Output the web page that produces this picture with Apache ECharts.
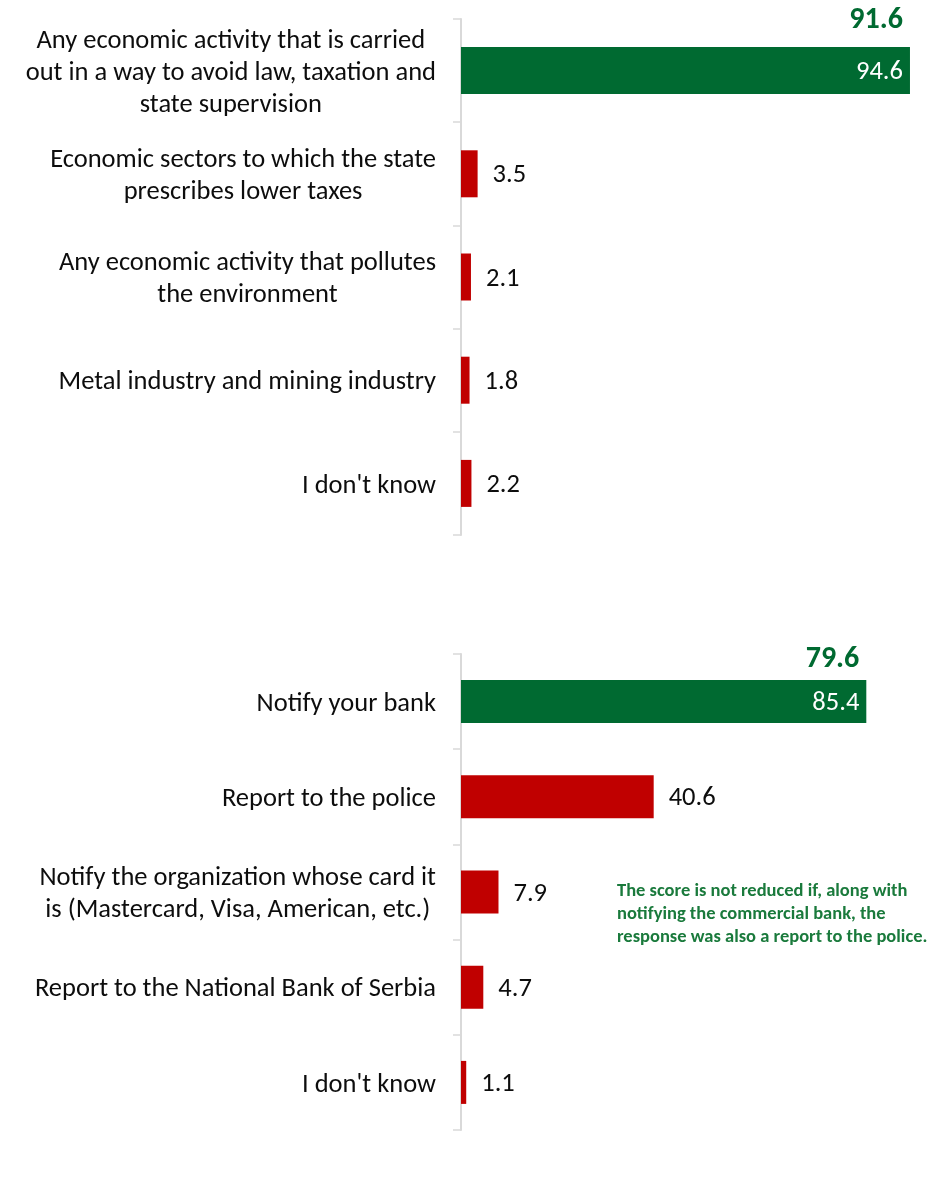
<!DOCTYPE html>
<html>
<head>
<meta charset="utf-8">
<script src="https://cdn.jsdelivr.net/npm/echarts@6/dist/echarts.min.js"></script>
<style>
  html, body { margin: 0; padding: 0; background: #fff; }
  #chart { width: 947px; height: 1197px; }
</style>
</head>
<body>
<div id="chart"></div>
<script>
// Question 1: what the grey economy is
const topCategories = [
  'Any economic activity that is carried\nout in a way to avoid law, taxation and\nstate supervision',
  'Economic sectors to which the state\nprescribes lower taxes',
  'Any economic activity that pollutes\nthe environment',
  'Metal industry and mining industry',
  "I don't know"
];
const topValues = [94.6, 3.5, 2.1, 1.8, 2.2];
const topScore = 91.6;

// Question 2: what to do when a payment card is lost
const bottomCategories = [
  'Notify your bank',
  'Report to the police',
  'Notify the organization whose card it\nis (Mastercard, Visa, American, etc.)',
  'Report to the National Bank of Serbia',
  "I don't know"
];
const bottomValues = [85.4, 40.6, 7.9, 4.7, 1.1];
const bottomScore = 79.6;

const noteLines = [
  'The score is not reduced if, along with',
  'notifying the commercial bank, the',
  'response was also a report to the police.'
];

const FONT = 'Carlito, Lato, "Liberation Sans", sans-serif';
const GREEN = '#006a31';
const RED = '#c00000';
const AXIS_GREY = '#d9d9d9';
const LABEL_SIZE = 26.5;

const gridLeft = 461;
const gridWidth = 474.6;
const grids = [
  { left: gridLeft, width: gridWidth, top: 19, height: 516 },
  { left: gridLeft, width: gridWidth, top: 654, height: 476 }
];

function catAxis(idx, cats) {
  return {
    type: 'category',
    gridIndex: idx,
    inverse: true,
    data: cats,
    axisLine: { show: true, lineStyle: { color: AXIS_GREY, width: 2 } },
    axisTick: { show: true, length: 8, lineStyle: { color: AXIS_GREY, width: 1.5 } },
    axisLabel: {
      margin: 25,
      align: 'right',
      padding: [5, 0, 0, 0],
      formatter: v => v.split('\n').map(l => '{c|' + l + '}').join('\n'),
      rich: {
        c: { align: 'center', fontFamily: FONT, fontSize: LABEL_SIZE, lineHeight: 32, color: '#0d0d0d' }
      }
    }
  };
}

function valAxis(idx) {
  return { type: 'value', gridIndex: idx, min: 0, max: 100, show: false };
}

function barData(values) {
  return values.map((v, i) => i === 0
    ? {
        value: v,
        itemStyle: { color: GREEN },
        label: { position: 'insideRight', distance: 7, color: '#ffffff' }
      }
    : { value: v, itemStyle: { color: RED } });
}

function barSeries(idx, values, width) {
  return {
    type: 'bar',
    xAxisIndex: idx,
    yAxisIndex: idx,
    barWidth: width,
    data: barData(values),
    silent: true,
    label: {
      show: true,
      position: 'right',
      distance: 15,
      offset: [0, 2],
      formatter: p => p.value.toFixed(1),
      fontFamily: FONT,
      fontSize: LABEL_SIZE,
      color: '#0d0d0d'
    }
  };
}

const chart = echarts.init(document.getElementById('chart'), null, { renderer: 'canvas' });
chart.setOption({
  backgroundColor: '#ffffff',
  animation: false,
  grid: grids,
  xAxis: [valAxis(0), valAxis(1)],
  yAxis: [catAxis(0, topCategories), catAxis(1, bottomCategories)],
  series: [barSeries(0, topValues, 47), barSeries(1, bottomValues, 43)]
});

// Score labels sit above the first bar, right-aligned with its value label
const topEnd = chart.convertToPixel({ xAxisIndex: 0, yAxisIndex: 0 }, [topValues[0], 0]);
const botEnd = chart.convertToPixel({ xAxisIndex: 1, yAxisIndex: 1 }, [bottomValues[0], 0]);

const scoreStyle = {
  fontFamily: FONT, fontSize: 30, fontWeight: 'bold', fill: GREEN,
  align: 'right', verticalAlign: 'middle'
};

chart.setOption({
  graphic: [
    { type: 'text', x: topEnd[0] - 7, y: grids[0].top + 1,
      style: Object.assign({ text: topScore.toFixed(1) }, scoreStyle) },
    { type: 'text', x: botEnd[0] - 7, y: grids[1].top + 5,
      style: Object.assign({ text: bottomScore.toFixed(1) }, scoreStyle) },
    { type: 'text', left: 617, top: 880,
      style: {
        text: noteLines.join('\n'),
        fontFamily: FONT, fontSize: 18.5, fontWeight: 'bold',
        lineHeight: 23, fill: '#1a7a3c', align: 'left'
      } }
  ]
});
</script>
</body>
</html>
